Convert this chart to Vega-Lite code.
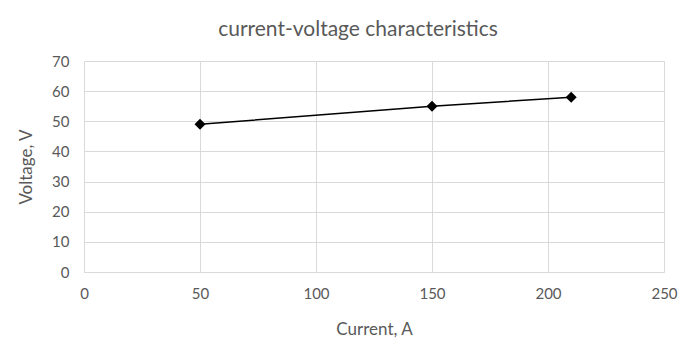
{
  "$schema": "https://vega.github.io/schema/vega-lite/v6.json",
  "width": 580,
  "height": 211,
  "autosize": "none",
  "padding": {"left": 84, "top": 61, "right": 33, "bottom": 83},
  "background": "white",
  "config": {
    "font": "Lato",
    "view": {"stroke": null},
    "axis": {
      "labelColor": "#595959",
      "titleColor": "#595959",
      "labelFont": "Lato",
      "titleFont": "Lato",
      "labelFontSize": 15,
      "titleFontSize": 17,
      "titleFontWeight": "normal",
      "gridColor": "#d9d9d9",
      "ticks": false,
      "domainColor": "#d9d9d9"
    }
  },
  "title": {
    "text": "current-voltage characteristics",
    "font": "Lato",
    "fontSize": 21,
    "fontWeight": "normal",
    "color": "#595959",
    "anchor": "middle",
    "dx": -16,
    "offset": 14
  },
  "data": {
    "values": [
      {"current": 50, "voltage": 49},
      {"current": 150, "voltage": 55},
      {"current": 210, "voltage": 58}
    ]
  },
  "mark": {"type": "line", "color": "black", "strokeWidth": 1.5, "point": {"shape": "diamond", "size": 120, "filled": true, "color": "black", "opacity": 1}},
  "encoding": {
    "x": {
      "field": "current",
      "type": "quantitative",
      "title": "Current, A",
      "scale": {"domain": [0, 250], "nice": false},
      "axis": {"values": [0, 50, 100, 150, 200, 250], "labelPadding": 14, "titlePadding": 20, "domain": true, "labelFlush": false}
    },
    "y": {
      "field": "voltage",
      "type": "quantitative",
      "title": "Voltage, V",
      "scale": {"domain": [0, 70], "nice": false},
      "axis": {"values": [0, 10, 20, 30, 40, 50, 60, 70], "labelPadding": 15, "titlePadding": 16, "domain": false}
    }
  }
}
